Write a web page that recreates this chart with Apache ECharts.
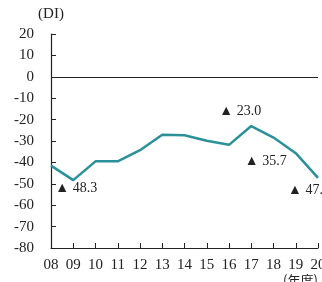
<!DOCTYPE html>
<html>
<head>
<meta charset="utf-8">
<script src="https://cdn.jsdelivr.net/npm/echarts@6/dist/echarts.min.js"></script>
<style>
	html, body { margin: 0; padding: 0; background: #fff; }
	#chart { width: 322px; height: 282px; }
</style>
</head>
<body>
<div id="chart"></div>
<script>
	// 年度
	var years = ['08', '09', '10', '11', '12', '13', '14', '15', '16', '17', '18', '19', '20'];
	// DI
	var diValues = [-41.5, -48.3, -39.5, -39.5, -34.3, -27.1, -27.3, -29.9, -31.8, -23.0, -28.4, -35.7, -47.2];
	var yTicks = [-80, -70, -60, -50, -40, -30, -20, -10, 0, 10, 20];
	// 注記する年度と位置のずれ
	var noteYears = ['09', '17', '19', '20'];
	var noteOffsets = [[3, 8], [-11, -15], [-30, 8], [-9, 13]];

	var serif = '"Liberation Serif", "DejaVu Serif", serif';

	var seriesData = diValues.map(function(v, i) {
		var k = noteYears.indexOf(years[i]);
		if (k < 0) return v;
		return {
			value: v,
			label: {
				show: true,
				position: 'inside',
				offset: noteOffsets[k],
				formatter: function(p) {
					return '▲ ' + Math.abs(p.value).toFixed(1);
				}
			}
		};
	});

	var chart = echarts.init(document.getElementById('chart'));
	chart.setOption({
		backgroundColor: '#fff',
		animation: false,
		grid: { left: 51, right: 4, top: 34, bottom: 34, outerBoundsMode: 'none' },
		xAxis: {
			type: 'category',
			data: years,
			boundaryGap: false,
			axisLine: { onZero: false, lineStyle: { color: '#222', width: 1.2 } },
			axisTick: { inside: true, length: 5, lineStyle: { color: '#222' } },
			axisLabel: { color: '#222', fontFamily: serif, fontSize: 15, margin: 10 },
			name: '(年度)',
			nameLocation: 'end',
			nameGap: -35,
			nameTextStyle: {
				color: '#222', fontFamily: '"Noto Sans CJK JP"', fontSize: 13,
				align: 'left', verticalAlign: 'top', padding: [26, 0, 0, 0]
			},
			splitLine: { show: false }
		},
		yAxis: {
			type: 'value',
			min: yTicks[0],
			max: yTicks[yTicks.length - 1],
			interval: 10,
			axisLine: { show: true, lineStyle: { color: '#222', width: 1.2 } },
			axisTick: { show: true, inside: true, length: 5, lineStyle: { color: '#222' } },
			axisLabel: { color: '#222', fontFamily: serif, fontSize: 15, margin: 17 },
			splitLine: { show: false },
			name: '(DI)',
			nameLocation: 'end',
			nameGap: 12,
			nameTextStyle: { color: '#222', fontFamily: serif, fontSize: 15, align: 'center' }
		},
		series: [{
			type: 'line',
			data: seriesData,
			symbol: 'circle',
			symbolSize: 0,
			showSymbol: true,
			lineStyle: { color: '#2b9098', width: 2.5 },
			itemStyle: { color: '#2b9098' },
			label: { color: '#222', fontFamily: serif, fontSize: 14 },
			markLine: {
				silent: true,
				symbol: 'none',
				label: { show: false },
				lineStyle: { color: '#222', width: 1.2, type: 'solid' },
				data: [{ yAxis: 0 }]
			}
		}]
	});
</script>
</body>
</html>
